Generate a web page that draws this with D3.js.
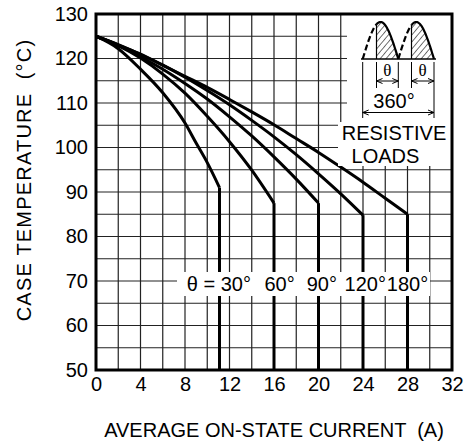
<!DOCTYPE html>
<html>
<head>
<meta charset="utf-8">
<script src="https://cdn.jsdelivr.net/npm/d3@7"></script>
<style>
  body { margin: 0; background: #fff; }
  svg { display: block; font-family: "Liberation Sans", Arial, sans-serif; }
  text { white-space: pre; }
</style>
</head>
<body>
<svg id="chart" width="468" height="444"></svg>
<script>
// tick values
var xTicks = [0, 4, 8, 12, 16, 20, 24, 28, 32];
var yTicks = [50, 60, 70, 80, 90, 100, 110, 120, 130];

// curves: [current A, case temp C]
var theta30 = [[0,125],[2,122.2],[4,117.6],[6,112.3],[8,105.5],[9,101],[10,96.6],[11.1,91],[11.1,50]];
var theta60 = [[0,125],[2,122.9],[4,120.1],[6,116.5],[8,112.2],[10,107],[12,101.3],[14,94.9],[16,87.5],[16,50]];
var theta90 = [[0,125],[2,123],[4,120.4],[6,117.6],[8,114.4],[10,110.9],[12,106.9],[14,102.6],[16,97.9],[18,92.9],[20,87.5],[20,50]];
var theta120 = [[0,125],[2,123.1],[4,120.9],[6,118.5],[8,115.8],[10,112.8],[12,109.6],[14,106.1],[16,102.4],[18,98.4],[20,94.1],[22,89.6],[24,84.8],[24,50]];
var theta180 = [[0,125],[2,123],[4,121],[6,118.5],[8,116],[10,113.5],[12,110.8],[14,108],[16,105.1],[18,102],[20,98.9],[22,95.6],[24,92.2],[26,88.6],[28,85],[28,50]];
var curves = [theta30, theta60, theta90, theta120, theta180];

// labels under the curve ends
var angleLabels = ["60°", "90°", "120°", "180°"];
var angleLabelX = [16.5, 20.3, 24.2, 28];

var svg = d3.select("#chart");
var x = d3.scaleLinear().domain([0, 32]).range([96, 452]);
var y = d3.scaleLinear().domain([50, 130]).range([370, 14]);

var g = svg.append("g");

// grid
g.selectAll(".vgrid")
    .data(d3.range(0, 33, 2))
    .enter().append("line")
    .attr("x1", function(d) { return x(d); })
    .attr("x2", function(d) { return x(d); })
    .attr("y1", y(50)).attr("y2", y(130))
    .attr("stroke", "#222").attr("stroke-width", 1.2);

g.selectAll(".hgrid")
    .data(d3.range(50, 131, 5))
    .enter().append("line")
    .attr("y1", function(d) { return y(d); })
    .attr("y2", function(d) { return y(d); })
    .attr("x1", x(0)).attr("x2", x(32))
    .attr("stroke", "#222").attr("stroke-width", 1.2);

// curves
var line = d3.line()
    .x(function(d) { return x(d[0]); })
    .y(function(d) { return y(d[1]); })
    .curve(d3.curveMonotoneX);

var lineV = d3.line()
    .x(function(d) { return x(d[0]); })
    .y(function(d) { return y(d[1]); });

curves.forEach(function(c) {
    var n = c.length;
    g.append("path")
        .attr("d", line(c.slice(0, n - 1)))
        .attr("fill", "none").attr("stroke", "#000").attr("stroke-width", 3)
        .attr("stroke-linejoin", "round");
    g.append("path")
        .attr("d", lineV(c.slice(n - 2)))
        .attr("fill", "none").attr("stroke", "#000").attr("stroke-width", 3);
});

// white boxes behind inset and curve labels
g.append("rect").attr("x", 347).attr("y", 15).attr("width", 104).attr("height", 108).attr("fill", "#fff");
g.append("rect").attr("x", 338).attr("y", 122).attr("width", 113).attr("height", 44).attr("fill", "#fff");
g.append("rect").attr("x", 177).attr("y", 272).attr("width", 253).attr("height", 24).attr("fill", "#fff");

// curve labels
g.append("text")
    .attr("x", 251).attr("y", 291)
    .attr("text-anchor", "end")
    .attr("font-size", 20)
    .text("θ = 30°");

g.selectAll(".alab")
    .data(angleLabels)
    .enter().append("text")
    .attr("x", function(d, i) { return x(angleLabelX[i]); })
    .attr("y", 291)
    .attr("text-anchor", "middle")
    .attr("font-size", 20)
    .text(function(d) { return d; });

// inset waveform
var inset = g.append("g");
var defs = svg.append("defs");
defs.append("pattern")
    .attr("id", "hatch").attr("patternUnits", "userSpaceOnUse")
    .attr("width", 4.5).attr("height", 4.5)
    .attr("patternTransform", "rotate(40)")
    .append("line").attr("x1", 0).attr("y1", 0).attr("x2", 0).attr("y2", 4.5)
    .attr("stroke", "#000").attr("stroke-width", 1.1);

var base = 59, peak = 22;
function lobe(x0, x1, xa, xb) {
    var pts = d3.range(0, 41).map(function(i) {
        var xx = xa + (xb - xa) * i / 40;
        return [xx, base - (base - peak) * Math.sin(Math.PI * (xx - x0) / (x1 - x0))];
    });
    return pts;
}
[[362.7, 398.3, 376.5], [398.3, 434, 411.5]].forEach(function(l) {
    var solid = lobe(l[0], l[1], l[2], l[1]);
    var dashed = lobe(l[0], l[1], l[0], l[2]);
    var area = [[l[2], base]].concat(solid);
    inset.append("path").attr("d", d3.line()(area) + "Z")
        .attr("fill", "url(#hatch)").attr("stroke", "none");
    inset.append("path").attr("d", d3.line()(solid))
        .attr("fill", "none").attr("stroke", "#000").attr("stroke-width", 2.2);
    inset.append("path").attr("d", d3.line()(dashed))
        .attr("fill", "none").attr("stroke", "#000").attr("stroke-width", 2.2)
        .attr("stroke-dasharray", "6,3");
    inset.append("line").attr("x1", l[2]).attr("x2", l[2]).attr("y1", base)
        .attr("y2", base - (base - peak) * Math.sin(Math.PI * (l[2] - l[0]) / (l[1] - l[0])))
        .attr("stroke", "#000").attr("stroke-width", 1.2);
});
inset.append("line").attr("x1", 361).attr("x2", 436).attr("y1", base).attr("y2", base)
    .attr("stroke", "#000").attr("stroke-width", 1.6);

// extension lines
[[362.7, 118], [376.5, 88], [398.3, 88], [411.5, 88], [434, 118]].forEach(function(e) {
    inset.append("line").attr("x1", e[0]).attr("x2", e[0]).attr("y1", base + 3).attr("y2", e[1])
        .attr("stroke", "#000").attr("stroke-width", 1);
});

function arrow(xa, xb, yy) {
    inset.append("line").attr("x1", xa).attr("x2", xb).attr("y1", yy).attr("y2", yy)
        .attr("stroke", "#000").attr("stroke-width", 1);
    inset.append("path").attr("d", "M" + (xa + 6) + "," + (yy - 2.5) + "L" + xa + "," + yy + "L" + (xa + 6) + "," + (yy + 2.5))
        .attr("fill", "none").attr("stroke", "#000").attr("stroke-width", 1);
    inset.append("path").attr("d", "M" + (xb - 6) + "," + (yy - 2.5) + "L" + xb + "," + yy + "L" + (xb - 6) + "," + (yy + 2.5))
        .attr("fill", "none").attr("stroke", "#000").attr("stroke-width", 1);
}
arrow(376.5, 398.3, 81);
arrow(411.5, 434, 81);
arrow(362.7, 434, 112.5);

inset.append("text").attr("x", 387.4).attr("y", 76).attr("text-anchor", "middle")
    .attr("font-size", 17).attr("font-family", "Liberation Serif, serif").text("θ");
inset.append("text").attr("x", 422.7).attr("y", 76).attr("text-anchor", "middle")
    .attr("font-size", 17).attr("font-family", "Liberation Serif, serif").text("θ");
inset.append("text").attr("x", 394).attr("y", 108).attr("text-anchor", "middle")
    .attr("font-size", 20).text("360°");
inset.append("text").attr("x", 394).attr("y", 140).attr("text-anchor", "middle")
    .attr("font-size", 20).text("RESISTIVE");
inset.append("text").attr("x", 385.5).attr("y", 163).attr("text-anchor", "middle")
    .attr("font-size", 20).text("LOADS");

// frame
g.append("rect")
    .attr("x", x(0)).attr("y", y(130))
    .attr("width", x(32) - x(0)).attr("height", y(50) - y(130))
    .attr("fill", "none").attr("stroke", "#000").attr("stroke-width", 3);

// axes labels
var xAxis = svg.append("g")
    .attr("transform", "translate(0," + y(50) + ")")
    .call(d3.axisBottom(x).tickValues(xTicks).tickSize(0).tickPadding(7));
var yAxis = svg.append("g")
    .attr("transform", "translate(" + x(0) + ",0)")
    .call(d3.axisLeft(y).tickValues(yTicks).tickSize(0).tickPadding(8));
[xAxis, yAxis].forEach(function(a) {
    a.select(".domain").remove();
    a.selectAll("text").attr("font-size", 20).attr("font-family", "Liberation Sans, Arial, sans-serif").attr("fill", "#000");
});

svg.append("text")
    .attr("x", 274).attr("y", 437)
    .attr("text-anchor", "middle")
    .attr("font-size", 20)
    .text("AVERAGE ON-STATE CURRENT  (A)");

svg.append("text")
    .attr("transform", "translate(31,180) rotate(-90)")
    .attr("text-anchor", "middle")
    .attr("font-size", 20)
    .attr("letter-spacing", 1.2)
    .text("CASE TEMPERATURE  (°C)");
</script>
</body>
</html>
